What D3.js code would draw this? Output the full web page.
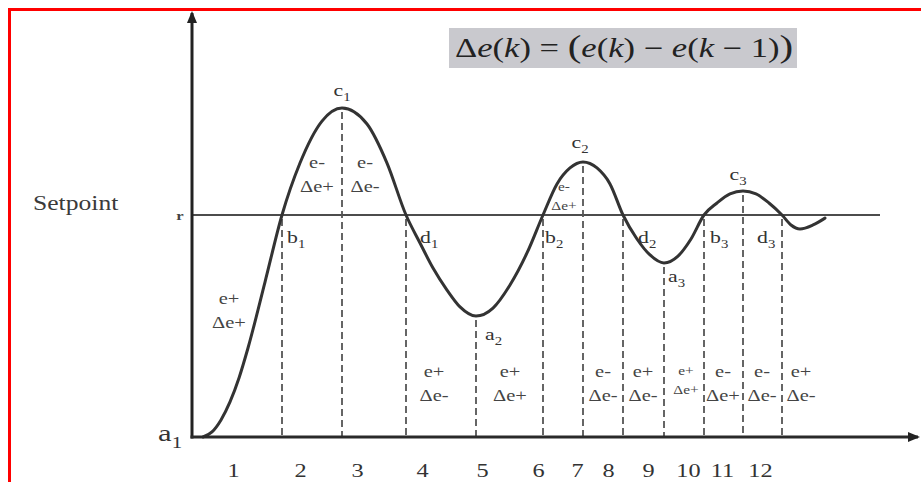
<!DOCTYPE html>
<html>
<head>
<meta charset="utf-8">
<script src="https://cdn.jsdelivr.net/npm/d3@7"></script>
<style>
  html, body { margin: 0; padding: 0; background: #fff; }
  svg { display: block; }
</style>
</head>
<body>
<svg id="chart" width="921" height="482"></svg>
<script>
// Process response around the setpoint, split into error / error-change sign regions.

// Response curve: time (arbitrary units) and value (setpoint = 1)
const curveT = [1.1, 2.0, 2.9, 3.8, 4.7, 5.6, 7.3, 9.0, 10.8, 13.0, 15.0, 17.5, 19.5, 21.4,
  22.8, 24.1, 25.5, 26.8, 28.4, 30.1, 31.8, 33.5, 35.1, 36.5, 37.8, 39.1, 40.5, 41.8,
  43.1, 44.5, 45.8, 47.2, 48.6, 49.9, 51.2, 52.5, 53.8, 55.1, 56.4, 57.7, 59.0, 59.9,
  60.8, 62.1, 63.3];
const curveV = [0, 0.023, 0.077, 0.158, 0.266, 0.401, 0.698, 1.0, 1.234, 1.423, 1.482, 1.410, 1.234, 1.0,
  0.874, 0.761, 0.662, 0.586, 0.545, 0.581, 0.685, 0.829, 1.0, 1.140, 1.212, 1.239, 1.212, 1.140,
  1.0, 0.892, 0.820, 0.784, 0.815, 0.892, 1.0, 1.054, 1.095, 1.108, 1.095, 1.054, 1.0, 0.955,
  0.937, 0.955, 0.986];

const setpoint = 1.0;

// Characteristic points: crossings (b, d), peaks (c) and troughs (a)
const markNames = ["b1", "c1", "d1", "a2", "b2", "c2", "d2", "a3", "b3", "c3", "d3"];
const markT = [9.0, 15.0, 21.4, 28.4, 35.1, 39.1, 43.1, 47.2, 51.2, 55.1, 59.0];

// Sign of the error and of its change in each region
const regionE = ["e+", "e-", "e-", "e+", "e+", "e-", "e-", "e+", "e+", "e-", "e-", "e+"];
const regionDe = ["Δe+", "Δe+", "Δe-", "Δe-", "Δe+", "Δe+", "Δe-", "Δe-", "Δe+", "Δe+", "Δe-", "Δe-"];

// Sample index labels along the time axis
const tickT = [4.1, 10.8, 16.5, 23.0, 29.0, 34.6, 38.5, 41.6, 45.6, 49.6, 53.0, 56.8];
const tickLabels = ["1", "2", "3", "4", "5", "6", "7", "8", "9", "10", "11", "12"];

// ---- layout ----
const SERIF = "'Liberation Serif', 'DejaVu Serif', serif";
const SX = 1.28;            // wide glyph stretch
const INK = "#333";
const tMax = 72.6, vMax = 1.91, setpointEnd = 68.8;

const regionPos = [   // [t, v] for the centre of the e-row of each region label
  [3.7, 0.626], [12.5, 1.239], [17.3, 1.239], [24.2, 0.297], [31.8, 0.297], [37.2, 1.126],
  [41.1, 0.297], [45.1, 0.297], [49.4, 0.297], [53.1, 0.297], [57.0, 0.297], [60.9, 0.297]
];
const smallRegions = new Set([5, 8]);

const markLabelOffset = {   // px offsets of each point label from its point
  b1: [5, 28, "start"], c1: [0, -12, "middle"], d1: [14, 28, "start"], a2: [9, 24, "start"],
  b2: [2, 28, "start"], c2: [-3, -14, "middle"], d2: [15, 28, "start"], a3: [4, 19, "start"],
  b3: [6, 28, "start"], c3: [-5, -11, "middle"], d3: [-25, 28, "start"]
};

const svg = d3.select("#chart");
const x = d3.scaleLinear().domain([0, tMax]).range([192, 918]);
const y = d3.scaleLinear().domain([0, setpoint]).range([437, 215]);

const defs = svg.append("defs");
defs.append("marker").attr("id", "arrow")
  .attr("viewBox", "0 0 12 10").attr("refX", 10).attr("refY", 5)
  .attr("markerWidth", 12).attr("markerHeight", 10)
  .attr("markerUnits", "userSpaceOnUse").attr("orient", "auto")
  .append("path").attr("d", "M0,0L12,5L0,10Z").attr("fill", "#222");

// Frame (left and top edges)
svg.append("rect").attr("x", 8).attr("y", 8).attr("width", 3).attr("height", 474).attr("fill", "#ff0000");
svg.append("rect").attr("x", 8).attr("y", 8).attr("width", 913).attr("height", 3).attr("fill", "#ff0000");

function stretched(parent, px, py, anchor, size, parts, fill) {
  const t = parent.append("text")
    .attr("transform", `translate(${px},${py}) scale(${SX},1)`)
    .attr("text-anchor", anchor).attr("font-size", size)
    .attr("font-family", SERIF).attr("fill", fill || INK);
  parts.forEach(p => {
    const s = t.append("tspan").text(p.text);
    if (p.italic) s.attr("font-style", "italic");
    if (p.size) s.attr("font-size", p.size);
    if (p.sub) s.attr("font-size", size * 0.68).attr("dy", size * 0.28);
  });
  return t;
}

// Formula box
svg.append("rect").attr("x", 449).attr("y", 28).attr("width", 348).attr("height", 40).attr("fill", "#c9c9ce");
stretched(svg, 455, 57, "start", 27, [
  { text: "Δ" }, { text: "e", italic: true }, { text: "(" }, { text: "k", italic: true }, { text: ")" },
  { text: " = " }, { text: "(", size: 32 }, { text: "e", italic: true }, { text: "(" },
  { text: "k", italic: true }, { text: ")" }, { text: " − " }, { text: "e", italic: true },
  { text: "(" }, { text: "k", italic: true }, { text: " − 1" }, { text: ")" }, { text: ")", size: 32 }
], "#222");

// Setpoint line and labels
svg.append("line")
  .attr("x1", x(0)).attr("x2", x(setpointEnd))
  .attr("y1", y(setpoint)).attr("y2", y(setpoint))
  .attr("stroke", "#111").attr("stroke-width", 1.5);
stretched(svg, 33, 210, "start", 20, [{ text: "Setpoint" }], "#3a3a3a");
stretched(svg, 180, 220, "middle", 13, [{ text: "r" }], "#444").attr("font-weight", "bold");

// Dashed verticals at the characteristic points
const curve = curveT.map((t, i) => ({ t, v: curveV[i] }));
const marks = markNames.map((name, i) => {
  const idx = curveT.indexOf(markT[i]);
  return { name, t: markT[i], v: curveV[idx] };
});
svg.append("g").selectAll("line").data(marks).join("line")
  .attr("x1", d => x(d.t)).attr("x2", d => x(d.t))
  .attr("y1", d => y(d.v) + 4).attr("y2", y(0))
  .attr("stroke", "#555").attr("stroke-width", 1.8).attr("stroke-dasharray", "7,4");

// Response curve
svg.append("path").datum(curve)
  .attr("d", d3.line().x(d => x(d.t)).y(d => y(d.v)).curve(d3.curveMonotoneX))
  .attr("fill", "none").attr("stroke", "#333").attr("stroke-width", 3)
  .attr("stroke-linecap", "round");

// Axes
svg.append("path")
  .attr("d", d3.line()([[x(0), y(0) + 1.5], [x(0), y(vMax)]]))
  .attr("stroke", "#222").attr("stroke-width", 3).attr("marker-end", "url(#arrow)");
svg.append("path")
  .attr("d", d3.line()([[x(0) - 1.5, y(0)], [x(tMax), y(0)]]))
  .attr("stroke", "#2a2a2a").attr("stroke-width", 3).attr("marker-end", "url(#arrow)");

const gx = svg.append("g").attr("transform", `translate(0,${y(0)})`)
  .call(d3.axisBottom(x).tickValues(tickT).tickFormat((d, i) => tickLabels[i])
    .tickSize(0).tickPadding(27));
gx.select(".domain").remove();
gx.selectAll("text").attr("font-family", SERIF).attr("font-size", 19)
  .attr("fill", INK).attr("transform", `scale(${SX},1)`);

// Point labels
stretched(svg, 158, 441, "start", 24, [{ text: "a" }, { text: "1", sub: true }]);
marks.forEach(m => {
  const [dx, dy, anchor] = markLabelOffset[m.name];
  stretched(svg, x(m.t) + dx, y(m.v) + dy, anchor, 17,
    [{ text: m.name[0] }, { text: m.name.slice(1), sub: true }]);
});

// Region sign labels
regionE.forEach((e, i) => {
  const [t, v] = regionPos[i];
  const small = smallRegions.has(i);
  const size = small ? 12 : 16;
  const gap = small ? 19 : 24;
  stretched(svg, x(t), y(v) + size * 0.35, "middle", size, [{ text: e }], "#444");
  stretched(svg, x(t), y(v) + gap + size * 0.35, "middle", size, [{ text: regionDe[i] }], "#444");
});
</script>
</body>
</html>
